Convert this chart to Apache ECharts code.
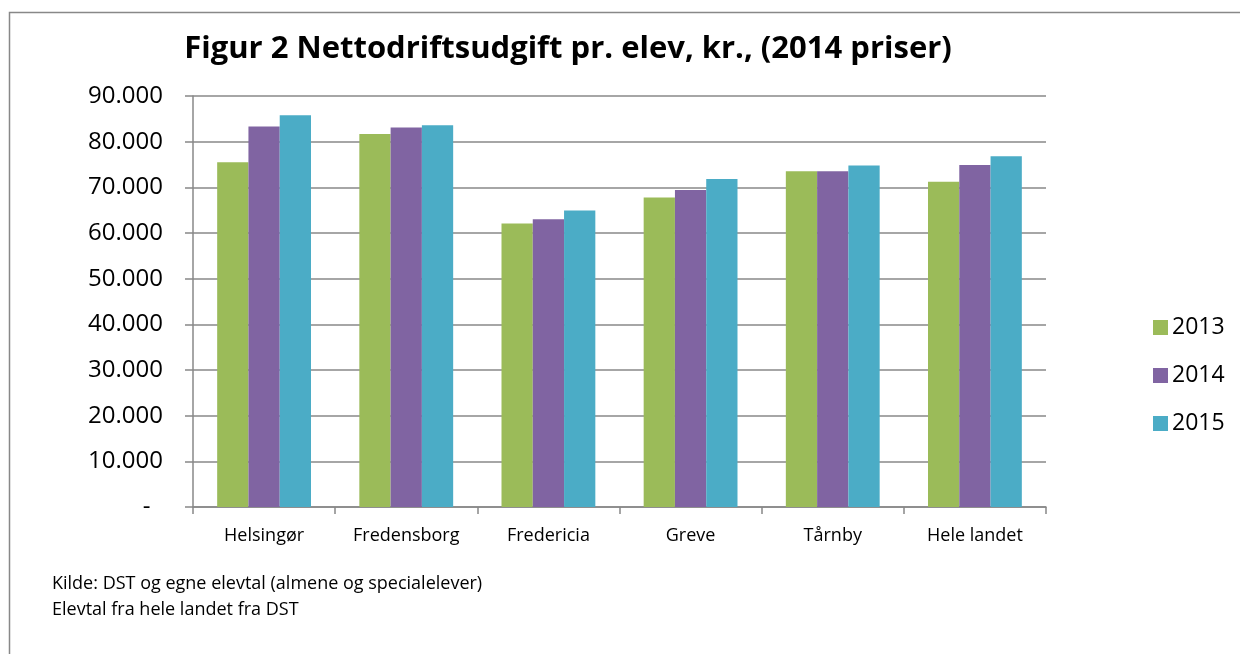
<!DOCTYPE html>
<html>
<head>
<meta charset="utf-8">
<script src="https://cdn.jsdelivr.net/npm/echarts@6/dist/echarts.min.js"></script>
<style>
  html, body { margin: 0; padding: 0; background: #fff; }
  #chart { width: 1240px; height: 654px; }
</style>
</head>
<body>
<div id="chart"></div>
<script>
const categories = ['Helsingør', 'Fredensborg', 'Fredericia', 'Greve', 'Tårnby', 'Hele landet'];
const years = ['2013', '2014', '2015'];
const values2013 = [75500, 81700, 62100, 67800, 73500, 71200];
const values2014 = [83300, 83100, 63000, 69400, 73500, 74900];
const values2015 = [85800, 83600, 64900, 71800, 74800, 76800];
const colors = ['#9BBB59', '#8064A2', '#4BACC6'];

const fontFamily = '"Open Sans", "Noto Sans", sans-serif';

// Excel accounting style: zero shown as a dash, indented
const formatTick = (v) => {
  if (v === 0) return '-  ';
  return v.toLocaleString('da-DK');
};

const chart = echarts.init(document.getElementById('chart'));

const seriesData = [values2013, values2014, values2015];

chart.setOption({
  animation: false,
  title: {
    text: 'Figur 2 Nettodriftsudgift pr. elev, kr., (2014 priser)',
    left: 563,
    top: 29,
    textAlign: 'center',
    textStyle: { fontFamily, fontSize: 31, fontWeight: 'bold', color: '#000' }
  },
  legend: {
    orient: 'vertical',
    left: 1148,
    top: 311,
    itemWidth: 15,
    itemHeight: 15,
    itemGap: 25,
    icon: 'rect',
    textStyle: { fontFamily, fontSize: 23, color: '#000', padding: [0, 0, 0, -1] },
    data: years
  },
  grid: {
    left: 193,
    right: 1240 - 1046,
    top: 96,
    bottom: 654 - 507,
    containLabel: false
  },
  xAxis: {
    type: 'category',
    data: categories,
    axisLine: { lineStyle: { color: '#888', width: 1.5 } },
    axisTick: { show: true, length: 7, lineStyle: { color: '#888', width: 1.5 } },
    axisLabel: { fontFamily, fontSize: 18, color: '#000', margin: 20 }
  },
  yAxis: {
    type: 'value',
    min: 0,
    max: 90000,
    interval: 10000,
    axisLine: { show: true, lineStyle: { color: '#888', width: 1.5 } },
    axisTick: { show: true, length: 8, lineStyle: { color: '#888', width: 1.5 } },
    splitLine: { lineStyle: { color: '#888', width: 1.5 } },
    axisLabel: { fontFamily, fontSize: 24, color: '#000', margin: 30, formatter: formatTick }
  },
  series: years.map((y, i) => ({
    name: y,
    type: 'bar',
    data: seriesData[i],
    barGap: '0%',
    barCategoryGap: '34%',
    itemStyle: { color: colors[i] }
  })),
  graphic: [
    {
      type: 'rect',
      shape: { x: 9.5, y: 12.5, width: 1300, height: 700 },
      style: { fill: 'none', stroke: '#888', lineWidth: 1.5 },
      silent: true
    },
    {
      type: 'text',
      left: 52,
      top: 571,
      style: {
        text: 'Kilde: DST og egne elevtal (almene og specialelever)\nElevtal fra hele landet fra DST',
        font: '18px ' + fontFamily,
        lineHeight: 26,
        fill: '#000'
      }
    }
  ]
});
</script>
</body>
</html>
